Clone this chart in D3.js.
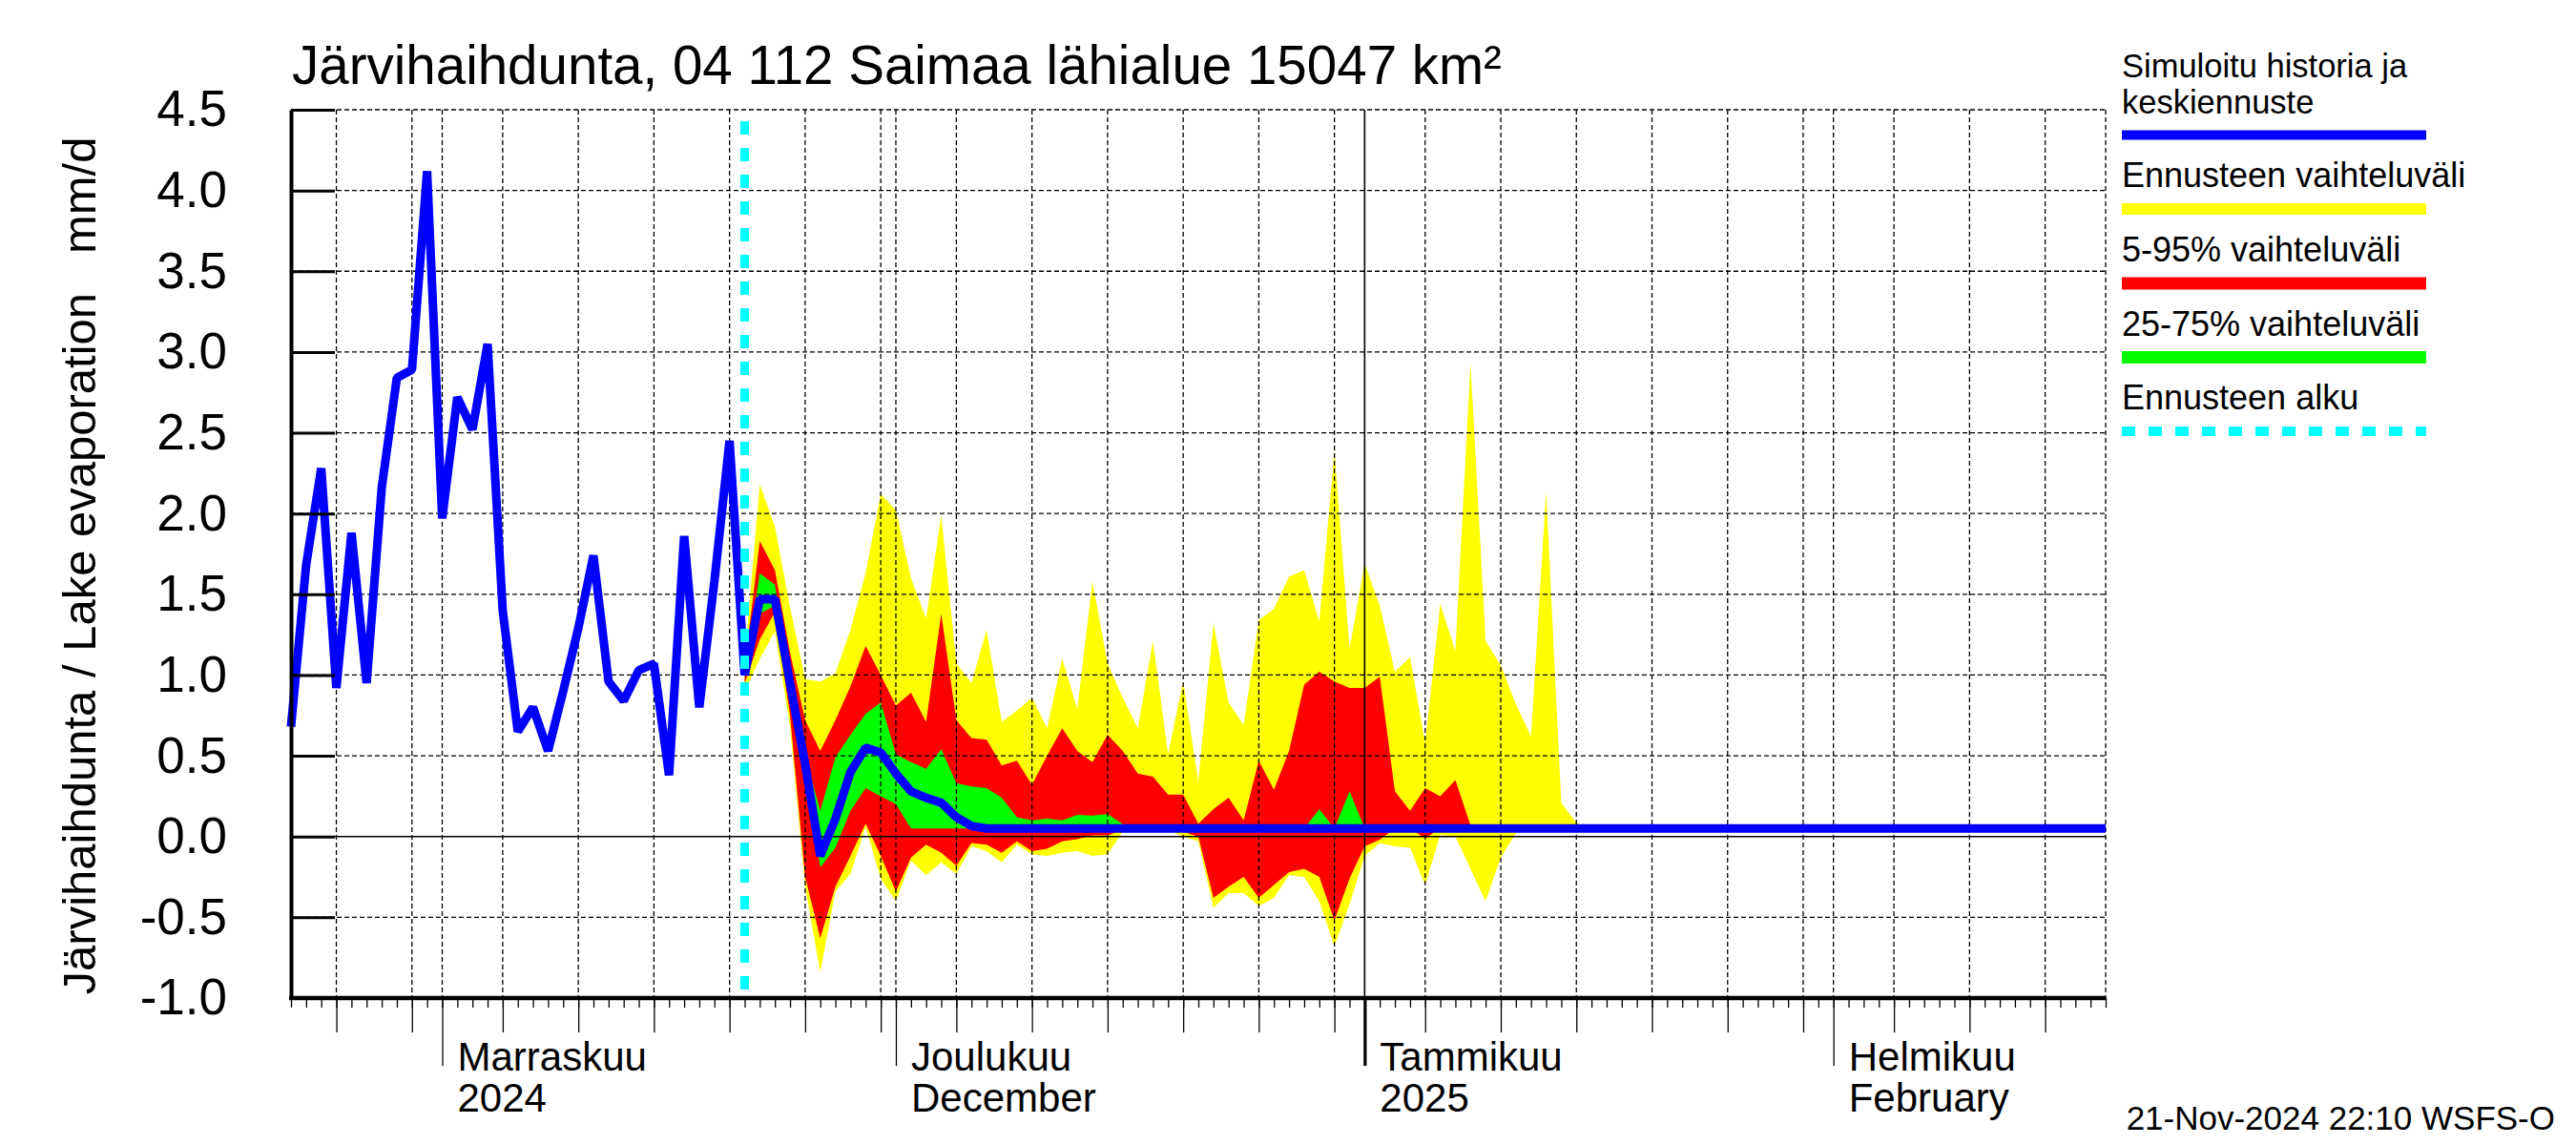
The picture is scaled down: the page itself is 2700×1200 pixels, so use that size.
<!DOCTYPE html>
<html><head><meta charset="utf-8">
<script src="https://cdn.jsdelivr.net/npm/d3@7"></script>
<style>
html,body{margin:0;padding:0;background:#fff;}
svg{display:block;}
text{font-family:"Liberation Sans",Arial,Helvetica,sans-serif;fill:#000;}
</style>
</head><body>
<svg id="chart" width="2700" height="1200"></svg>
<script>
// ---------------- DATA ----------------
const titleText = "Järvihaihdunta, 04 112 Saimaa lähialue 15047 km²";
const yAxisTitle = "Järvihaihdunta / Lake evaporation   mm/d";
const stampText = "21-Nov-2024 22:10 WSFS-O";

const domainStart = "2024-10-22";
const domainEnd = "2025-02-19";
const forecastStartDate = "2024-11-21";

// simulated history, daily from 2024-10-22 to 2024-11-21
const historyValues = [0.68, 1.68, 2.28, 0.92, 1.88, 0.95, 2.16, 2.84, 2.89, 4.12,
  1.97, 2.72, 2.52, 3.05, 1.40, 0.65, 0.80, 0.53, 0.90, 1.29,
  1.74, 0.96, 0.84, 1.03, 1.07, 0.38, 1.86, 0.80, 1.58, 2.45, 1.00];

// forecast median, daily from 2024-11-21 to 2025-02-19
const medianValues = [1.00, 1.47, 1.47, 0.95, 0.45, -0.12, 0.11, 0.40, 0.55, 0.52,
  0.39, 0.28, 0.24, 0.21, 0.12, 0.065, 0.05, 0.05, 0.05, 0.05,
  0.05, 0.05, 0.05, 0.05, 0.05, 0.05, 0.05, 0.05, 0.05, 0.05,
  0.05, 0.05, 0.05, 0.05, 0.05, 0.05, 0.05, 0.05, 0.05, 0.05,
  0.05, 0.05, 0.05, 0.05, 0.05, 0.05, 0.05, 0.05, 0.05, 0.05,
  0.05, 0.05, 0.05, 0.05, 0.05, 0.05, 0.05, 0.05, 0.05, 0.05,
  0.05, 0.05, 0.05, 0.05, 0.05, 0.05, 0.05, 0.05, 0.05, 0.05,
  0.05, 0.05, 0.05, 0.05, 0.05, 0.05, 0.05, 0.05, 0.05, 0.05,
  0.05, 0.05, 0.05, 0.05, 0.05, 0.05, 0.05, 0.05, 0.05, 0.05, 0.05];

// forecast ranges, daily from 2024-11-21 to 2025-01-16
const yellowHigh = [1.10, 2.18, 1.92, 1.42, 0.975, 0.96, 1.01, 1.28, 1.63, 2.12,
  2.02, 1.60, 1.35, 1.99, 1.07, 0.95, 1.28, 0.71, 0.78, 0.86,
  0.67, 1.10, 0.79, 1.58, 1.07, 0.86, 0.67, 1.21, 0.51, 0.96,
  0.34, 1.32, 0.83, 0.69, 1.34, 1.41, 1.61, 1.65, 1.33, 2.39,
  1.16, 1.69, 1.43, 1.02, 1.11, 0.58, 1.44, 1.15, 2.93, 1.21,
  1.06, 0.82, 0.62, 2.14, 0.21, 0.085, 0.05];
const redHigh = [1.05, 1.83, 1.65, 1.14, 0.72, 0.53, 0.72, 0.93, 1.18, 1.00,
  0.81, 0.89, 0.71, 1.38, 0.72, 0.61, 0.60, 0.44, 0.47, 0.32,
  0.50, 0.67, 0.53, 0.46, 0.63, 0.53, 0.39, 0.37, 0.26, 0.26,
  0.08, 0.17, 0.24, 0.10, 0.47, 0.29, 0.53, 0.94, 1.02, 0.96,
  0.92, 0.92, 0.99, 0.28, 0.16, 0.30, 0.25, 0.35, 0.07, 0.05,
  0.05, 0.05, 0.05, 0.05, 0.05, 0.05, 0.05];
const greenHigh = [1.02, 1.63, 1.56, 1.00, 0.50, 0.16, 0.49, 0.63, 0.76, 0.83,
  0.51, 0.46, 0.42, 0.54, 0.33, 0.31, 0.30, 0.24, 0.12, 0.10,
  0.11, 0.10, 0.135, 0.13, 0.14, 0.077, 0.05, 0.05, 0.05, 0.05,
  0.05, 0.05, 0.05, 0.05, 0.05, 0.05, 0.05, 0.05, 0.17, 0.05,
  0.28, 0.05, 0.05, 0.05, 0.05, 0.05, 0.05, 0.05, 0.05, 0.05,
  0.05, 0.05, 0.05, 0.05, 0.05, 0.05, 0.05];
const greenLow = [0.98, 1.38, 1.43, 0.90, 0.42, -0.19, -0.07, 0.16, 0.30, 0.25,
  0.20, 0.05, 0.05, 0.05, 0.05, 0.05, 0.05, 0.05, 0.05, 0.05,
  0.05, 0.05, 0.05, 0.05, 0.05, 0.05, 0.05, 0.05, 0.05, 0.05,
  0.05, 0.05, 0.05, 0.05, 0.05, 0.05, 0.05, 0.05, 0.05, 0.05,
  0.05, 0.05, 0.05, 0.05, 0.05, 0.05, 0.05, 0.05, 0.05, 0.05,
  0.05, 0.05, 0.05, 0.05, 0.05, 0.05, 0.05];
const redLow = [0.95, 1.22, 1.39, 0.75, -0.25, -0.63, -0.31, -0.12, 0.08, -0.12,
  -0.34, -0.13, -0.05, -0.10, -0.18, -0.04, -0.05, -0.10, -0.03, -0.09,
  -0.075, -0.03, -0.016, 0.007, 0.007, 0.04, 0.05, 0.05, 0.05, 0.03,
  0.00, -0.38, -0.31, -0.25, -0.38, -0.30, -0.22, -0.20, -0.25, -0.52,
  -0.26, -0.06, -0.02, 0.05, 0.05, -0.01, 0.05, 0.05, 0.05, 0.05,
  0.05, 0.05, 0.05, 0.05, 0.05, 0.05, 0.05];
const yellowLow = [0.90, 1.10, 1.27, 0.68, -0.31, -0.84, -0.34, -0.23, 0.06, -0.26,
  -0.40, -0.15, -0.24, -0.16, -0.23, -0.06, -0.09, -0.16, -0.05, -0.11,
  -0.12, -0.10, -0.09, -0.12, -0.11, 0.03, 0.04, 0.04, 0.04, 0.00,
  -0.03, -0.44, -0.35, -0.35, -0.43, -0.38, -0.24, -0.25, -0.40, -0.68,
  -0.42, -0.12, -0.04, -0.06, -0.07, -0.30, 0.01, 0.00, -0.20, -0.40,
  -0.13, 0.02, 0.05, 0.05, 0.05, 0.05, 0.05];

const yTickValues = [-1.0, -0.5, 0.0, 0.5, 1.0, 1.5, 2.0, 2.5, 3.0, 3.5, 4.0, 4.5];
const gridDays = [1, 5, 10, 15, 20, 25, 30];
const monthLabels = [
  {date: "2024-11-01", line1: "Marraskuu", line2: "2024"},
  {date: "2024-12-01", line1: "Joulukuu", line2: "December"},
  {date: "2025-01-01", line1: "Tammikuu", line2: "2025"},
  {date: "2025-02-01", line1: "Helmikuu", line2: "February"}
];
const legendItems = [
  {lines: ["Simuloitu historia ja", "keskiennuste"], color: "#0000ff", dash: null},
  {lines: ["Ennusteen vaihteluväli"], color: "#ffff00", dash: null},
  {lines: ["5-95% vaihteluväli"], color: "#ff0000", dash: null},
  {lines: ["25-75% vaihteluväli"], color: "#00ff00", dash: null},
  {lines: ["Ennusteen alku"], color: "#00ffff", dash: "14,14"}
];

// ---------------- CHART ----------------
const parse = d3.utcParse("%Y-%m-%d");
const svg = d3.select("#chart");
const L = 305, R = 2207, T = 115, B = 1046;

const x = d3.scaleUtc().domain([parse(domainStart), parse(domainEnd)]).range([L, R]);
const y = d3.scaleLinear().domain([-1, 4.5]).range([B, T]);

const dayAt = (start, i) => d3.utcDay.offset(parse(start), i);

const histPts = historyValues.map((v, i) => ({d: dayAt(domainStart, i), v}));
const medPts = medianValues.map((v, i) => ({d: dayAt(forecastStartDate, i), v}));
const bandPts = yellowHigh.map((v, i) => ({
  d: dayAt(forecastStartDate, i),
  yH: v, yL: yellowLow[i], rH: redHigh[i], rL: redLow[i], gH: greenHigh[i], gL: greenLow[i]
}));

// bands
const area = (lo, hi) => d3.area().x(p => x(p.d)).y0(p => y(p[lo])).y1(p => y(p[hi]));
svg.append("path").datum(bandPts).attr("d", area("yL", "yH")).attr("fill", "#ffff00");
svg.append("path").datum(bandPts).attr("d", area("rL", "rH")).attr("fill", "#ff0000");
svg.append("path").datum(bandPts).attr("d", area("gL", "gH")).attr("fill", "#00ff00");

// grid
const grid = svg.append("g");
const allDays = d3.utcDay.range(parse(domainStart), d3.utcDay.offset(parse(domainEnd), 1));
const gridDates = allDays.filter(d => gridDays.includes(d.getUTCDate()) && +d > +parse(domainStart));
gridDates.forEach(d => {
  const isYear = d.getUTCMonth() === 0 && d.getUTCDate() === 1;
  grid.append("line").attr("x1", x(d)).attr("x2", x(d)).attr("y1", T).attr("y2", B)
    .attr("stroke", "#000").attr("stroke-width", isYear ? 1.6 : 1.3)
    .attr("stroke-dasharray", isYear ? null : "5,3");
});
grid.append("line").attr("x1", R).attr("x2", R).attr("y1", T).attr("y2", B)
  .attr("stroke", "#000").attr("stroke-width", 1.3).attr("stroke-dasharray", "5,3");
yTickValues.filter(v => v > -1).forEach(v => {
  grid.append("line").attr("x1", L).attr("x2", R).attr("y1", y(v)).attr("y2", y(v))
    .attr("stroke", "#000").attr("stroke-width", v === 0 ? 1.6 : 1.3)
    .attr("stroke-dasharray", v === 0 ? null : "5,3");
});

// blue line
const line = d3.line().x(p => x(p.d)).y(p => y(p.v));
svg.append("path").datum(histPts.concat(medPts.slice(1))).attr("d", line)
  .attr("fill", "none").attr("stroke", "#0000ff").attr("stroke-width", 9)
  .attr("stroke-linejoin", "bevel");

// forecast start
const fx = x(parse(forecastStartDate));
svg.append("line").attr("x1", fx).attr("x2", fx).attr("y1", T + 12).attr("y2", B)
  .attr("stroke", "#00ffff").attr("stroke-width", 9).attr("stroke-dasharray", "14,14");

// y axis
const yAxis = d3.axisLeft(y).tickValues(yTickValues).tickFormat(d => d.toFixed(1))
  .tickSizeInner(-46).tickSizeOuter(0).tickPadding(67);
const gy = svg.append("g").attr("transform", `translate(${L},0)`).call(yAxis);
gy.select(".domain").attr("stroke-width", 4);
gy.selectAll(".tick line").attr("stroke-width", 3);
gy.selectAll(".tick text").attr("font-size", 53).attr("font-family", "Liberation Sans, Arial, sans-serif");

// x axis (three tick levels)
const mkX = (vals, size, sw) => {
  const g = svg.append("g").attr("transform", `translate(0,${B})`)
    .call(d3.axisBottom(x).tickValues(vals).tickFormat("").tickSizeInner(size).tickSizeOuter(0));
  g.select(".domain").remove();
  g.selectAll(".tick line").attr("stroke-width", sw);
  return g;
};
mkX(allDays, 10, 1.3);
mkX(allDays.filter(d => [5, 10, 15, 20, 25, 30].includes(d.getUTCDate())), 36, 1.3);
const gm = mkX(allDays.filter(d => d.getUTCDate() === 1), 71, 1.3);
gm.selectAll(".tick line").filter(d => d.getUTCMonth() === 0).attr("stroke-width", 3.2);
svg.append("line").attr("x1", L - 2).attr("x2", R).attr("y1", B).attr("y2", B)
  .attr("stroke", "#000").attr("stroke-width", 4.5);

// month labels
monthLabels.forEach(m => {
  const mx = x(parse(m.date)) + 16;
  svg.append("text").attr("x", mx).attr("y", 1122).attr("font-size", 42).text(m.line1);
  svg.append("text").attr("x", mx).attr("y", 1165).attr("font-size", 42).text(m.line2);
});

// titles
svg.append("text").attr("x", 306).attr("y", 88).attr("font-size", 56.5).text(titleText);
svg.append("text").attr("transform", "translate(100,593) rotate(-90)")
  .attr("text-anchor", "middle").attr("font-size", 49).style("white-space", "pre")
  .text(yAxisTitle);
svg.append("text").attr("x", 2678).attr("y", 1184).attr("text-anchor", "end")
  .attr("font-size", 35).text(stampText);

// legend
const lg = svg.append("g");
const legendLayout = [
  {texts: [81, 119], bar: 141.5, w: 10},
  {texts: [196], bar: 219, w: 12},
  {texts: [274], bar: 297, w: 13},
  {texts: [352], bar: 374.5, w: 13},
  {texts: [429], bar: 452, w: 10}
];
legendItems.forEach((it, i) => {
  const lay = legendLayout[i];
  it.lines.forEach((t, j) => lg.append("text").attr("x", 2224).attr("y", lay.texts[j])
    .attr("font-size", i === 0 ? 34.5 : 36).text(t));
  lg.append("line").attr("x1", 2224).attr("x2", 2543).attr("y1", lay.bar).attr("y2", lay.bar)
    .attr("stroke", it.color).attr("stroke-width", lay.w).attr("stroke-dasharray", it.dash);
});
</script>
</body></html>
